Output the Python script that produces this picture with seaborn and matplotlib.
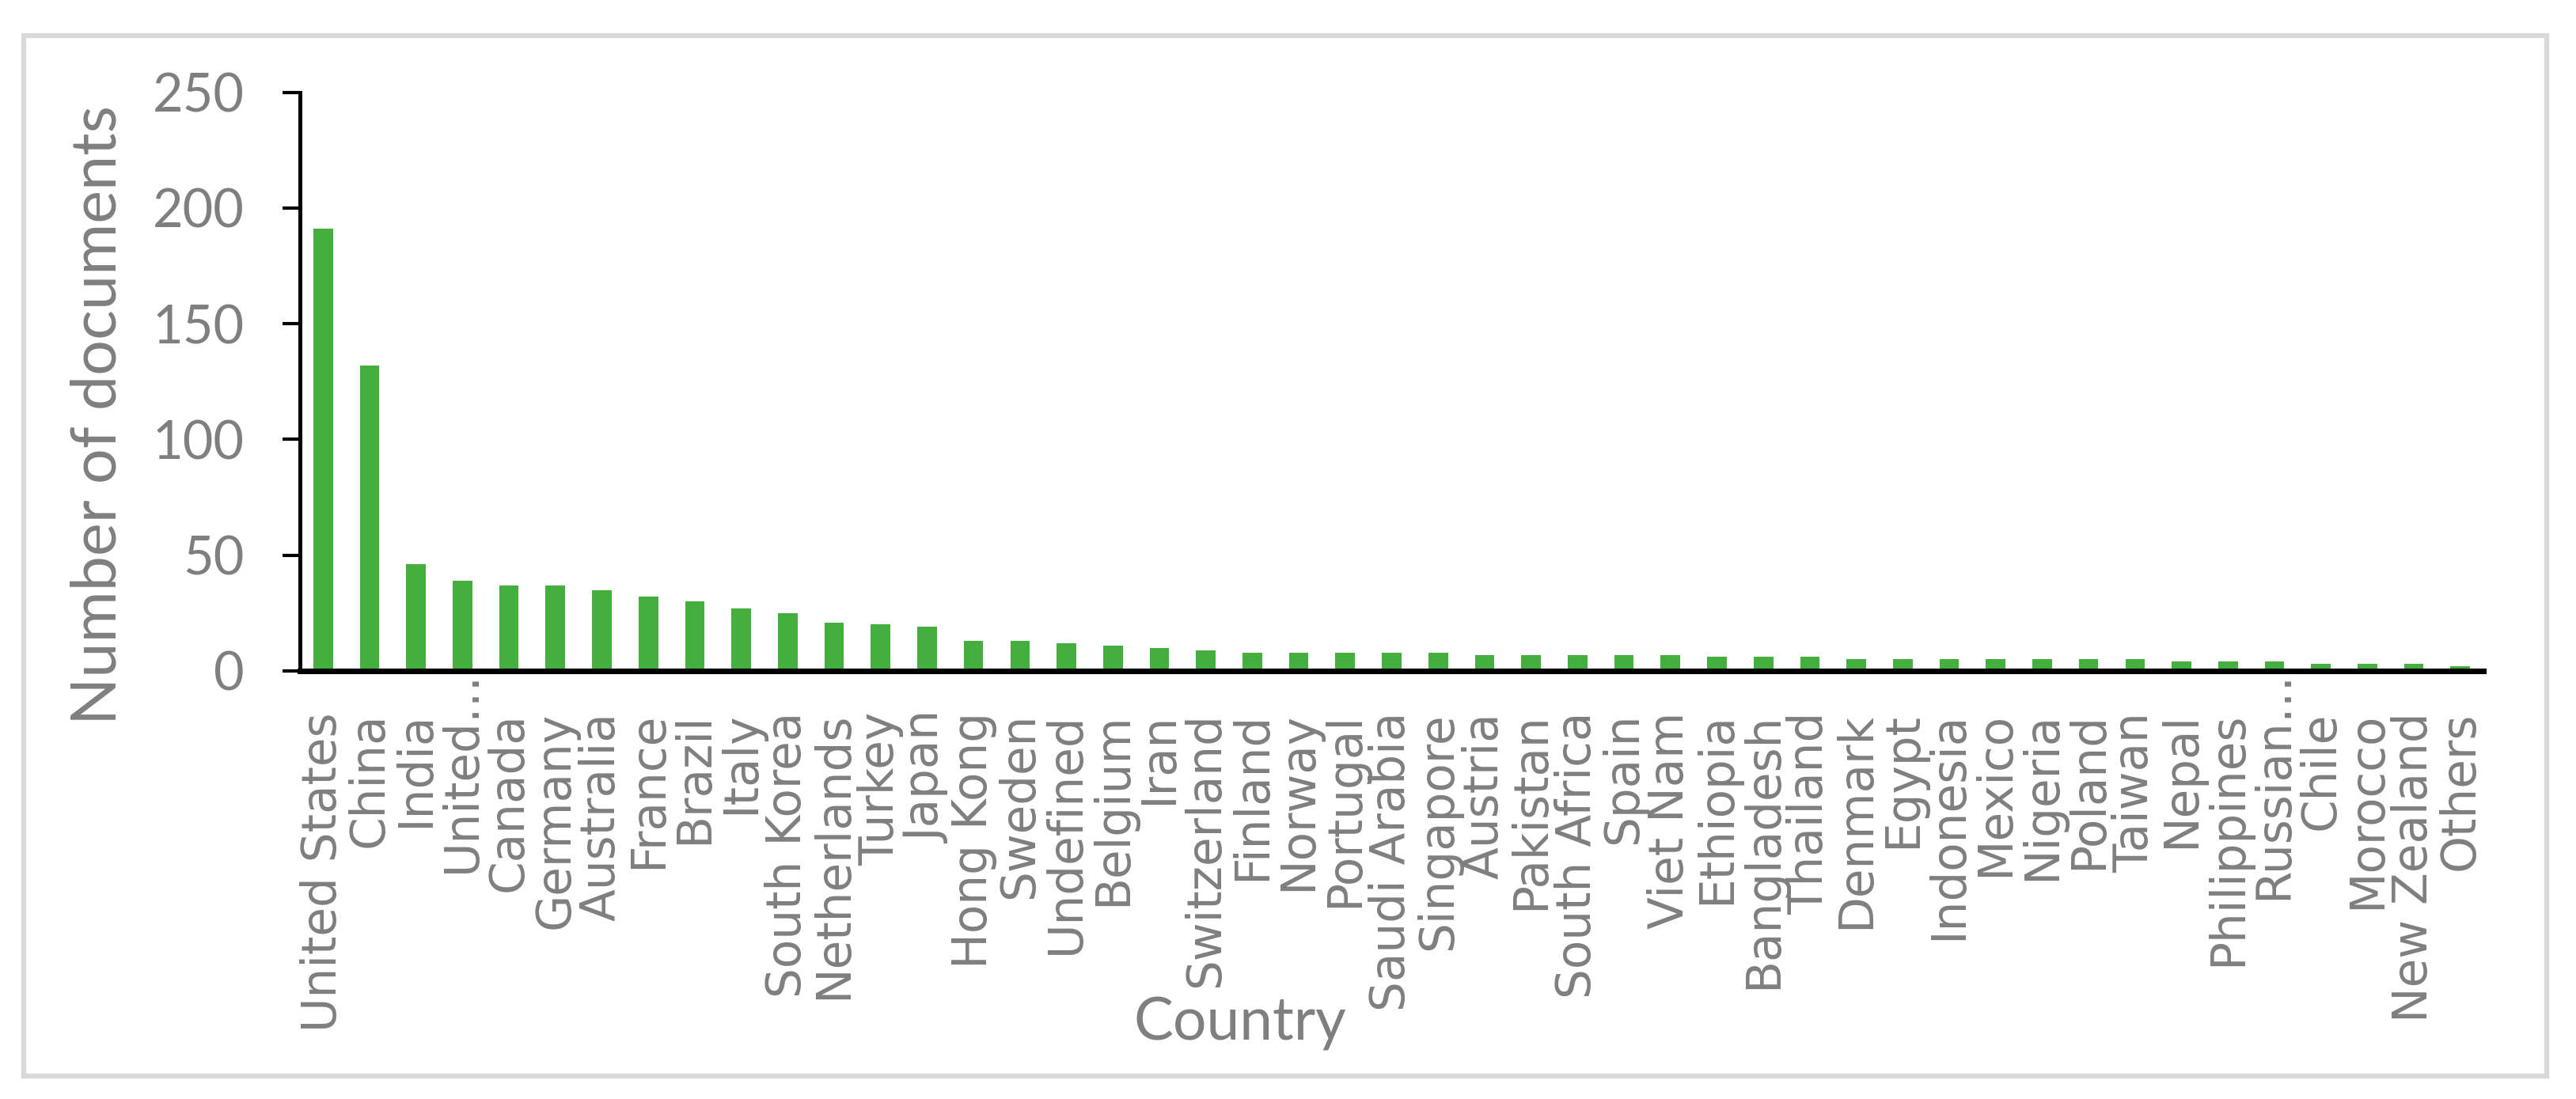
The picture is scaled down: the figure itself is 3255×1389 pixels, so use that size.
import matplotlib
matplotlib.use("Agg")
import matplotlib.pyplot as plt
import seaborn as sns
from matplotlib.patches import Rectangle
from matplotlib.transforms import ScaledTranslation

# Documents per country
countries = ['United States', 'China', 'India', 'United…', 'Canada', 'Germany',
             'Australia', 'France', 'Brazil', 'Italy', 'South Korea', 'Netherlands',
             'Turkey', 'Japan', 'Hong Kong', 'Sweden', 'Undefined', 'Belgium', 'Iran',
             'Switzerland', 'Finland', 'Norway', 'Portugal', 'Saudi Arabia', 'Singapore',
             'Austria', 'Pakistan', 'South Africa', 'Spain', 'Viet Nam', 'Ethiopia',
             'Bangladesh', 'Thailand', 'Denmark', 'Egypt', 'Indonesia', 'Mexico',
             'Nigeria', 'Poland', 'Taiwan', 'Nepal', 'Philippines', 'Russian…', 'Chile',
             'Morocco', 'New Zealand', 'Others']
documents = [191, 132, 46, 39, 37, 37, 35, 32, 30, 27, 25, 21,
             20, 19, 13, 13, 12, 11, 10, 9, 8, 8, 8, 8, 8,
             7, 7, 7, 7, 7, 6, 6, 6, 5, 5, 5, 5,
             5, 5, 5, 4, 4, 4, 3, 3, 3, 2]
yticks = [0, 50, 100, 150, 200, 250]

bar_color = '#44AF3C'
gray = '#7f7f7f'

sns.set_style("white")
plt.rcParams['font.family'] = ['Lato', 'DejaVu Sans']

fig = plt.figure(figsize=(10.85, 4.63), dpi=300)
ax = fig.add_axes([0.1164, 0.3895, 0.8477, 0.5266])

sns.barplot(x=countries, y=documents, color=bar_color, saturation=1,
            width=0.42, linewidth=0, ax=ax)

ax.set_xlim(-0.5, len(countries) - 0.5)
ax.set_ylim(0, 250)
ax.set_yticks(yticks)

# spines
sns.despine(ax=ax)
ax.spines['left'].set_linewidth(1.2)
ax.spines['bottom'].set_linewidth(1.7)
ax.spines['left'].set_color('black')
ax.spines['bottom'].set_color('black')

ax.tick_params(axis='y', direction='out', length=5.3, width=1.0, color='black',
               pad=11.5, labelsize=16, labelcolor=gray, left=True)
ax.tick_params(axis='x', length=0, pad=12.5, labelcolor=gray)

for lab in ax.get_xticklabels():
    lab.set_rotation(90)
    lab.set_fontfamily('DejaVu Sans')
    lab.set_fontsize(14.3)
    lab.set_va('top')
    lab.set_ha('center')
    if lab.get_text().endswith('…'):
        lab.set_transform(lab.get_transform() +
                          ScaledTranslation(0, 12.5 / 72, fig.dpi_scale_trans))

ax.set_xlabel('Country', fontsize=18, color=gray)
ax.xaxis.label.set_va('baseline')
ax.xaxis.set_label_coords(0.4306, -0.638)

ax.set_ylabel('Number of documents', fontsize=19, color=gray)
ax.yaxis.label.set_va('baseline')
ax.yaxis.set_label_coords(-0.0841, 0.4426)

# light gray frame around the chart
fig.patches.append(Rectangle((29.5 / 3255, 1 - 1360 / 1389),
                             (3217.5 - 29.5) / 3255, (1360 - 44.5) / 1389,
                             transform=fig.transFigure, fill=False,
                             edgecolor='#d9d9d9', linewidth=1.5))

fig.savefig('out.png', dpi=300)
